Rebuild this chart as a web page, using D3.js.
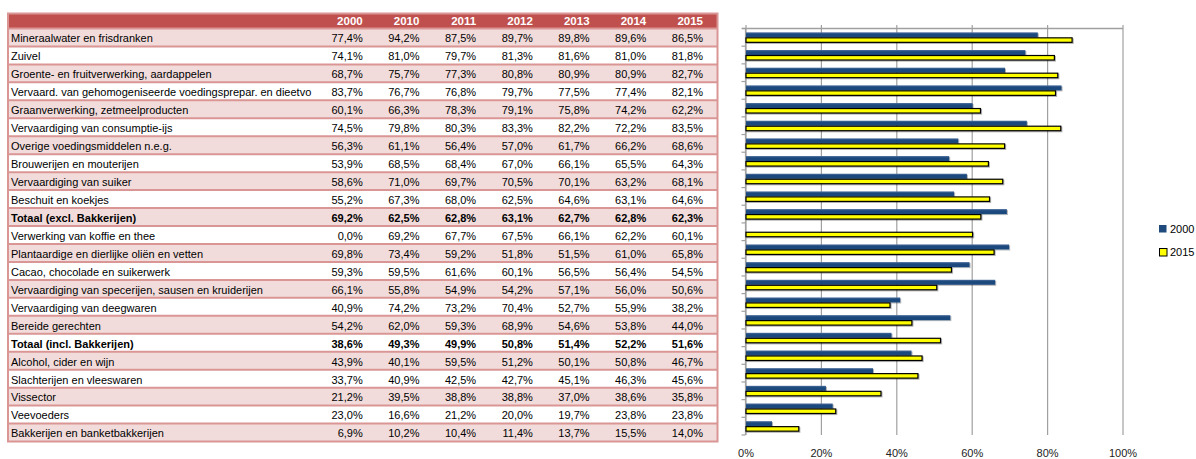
<!DOCTYPE html>
<html>
<head>
<meta charset="utf-8">
<script src="https://cdn.jsdelivr.net/npm/d3@7"></script>
<style>
  body { margin: 0; background: #fff; }
  svg { display: block; font-family: "Liberation Sans", Arial, sans-serif; }
</style>
</head>
<body>
<svg id="chart" width="1196" height="459"></svg>
<script>
const width = 1196;
const height = 459;

// Table / chart data
const categories = [
  "Mineraalwater en frisdranken",
  "Zuivel",
  "Groente- en fruitverwerking, aardappelen",
  "Vervaard. van gehomogeniseerde voedingsprepar. en dieetvo",
  "Graanverwerking, zetmeelproducten",
  "Vervaardiging van consumptie-ijs",
  "Overige voedingsmiddelen n.e.g.",
  "Brouwerijen en mouterijen",
  "Vervaardiging van suiker",
  "Beschuit en koekjes",
  "Totaal (excl. Bakkerijen)",
  "Verwerking van koffie en thee",
  "Plantaardige en dierlijke oliën en vetten",
  "Cacao, chocolade en suikerwerk",
  "Vervaardiging van specerijen, sausen en kruiderijen",
  "Vervaardiging van deegwaren",
  "Bereide gerechten",
  "Totaal (incl. Bakkerijen)",
  "Alcohol, cider en wijn",
  "Slachterijen en vleeswaren",
  "Vissector",
  "Veevoeders",
  "Bakkerijen en banketbakkerijen"
];
const boldRows = ["Totaal (excl. Bakkerijen)", "Totaal (incl. Bakkerijen)"];

const years = ["2000", "2010", "2011", "2012", "2013", "2014", "2015"];
const v2000 = [77.4, 74.1, 68.7, 83.7, 60.1, 74.5, 56.3, 53.9, 58.6, 55.2, 69.2, 0.0, 69.8, 59.3, 66.1, 40.9, 54.2, 38.6, 43.9, 33.7, 21.2, 23.0, 6.9];
const v2010 = [94.2, 81.0, 75.7, 76.7, 66.3, 79.8, 61.1, 68.5, 71.0, 67.3, 62.5, 69.2, 73.4, 59.5, 55.8, 74.2, 62.0, 49.3, 40.1, 40.9, 39.5, 16.6, 10.2];
const v2011 = [87.5, 79.7, 77.3, 76.8, 78.3, 80.3, 56.4, 68.4, 69.7, 68.0, 62.8, 67.7, 59.2, 61.6, 54.9, 73.2, 59.3, 49.9, 59.5, 42.5, 38.8, 21.2, 10.4];
const v2012 = [89.7, 81.3, 80.8, 79.7, 79.1, 83.3, 57.0, 67.0, 70.5, 62.5, 63.1, 67.5, 51.8, 60.1, 54.2, 70.4, 68.9, 50.8, 51.2, 42.7, 38.8, 20.0, 11.4];
const v2013 = [89.8, 81.6, 80.9, 77.5, 75.8, 82.2, 61.7, 66.1, 70.1, 64.6, 62.7, 66.1, 51.5, 56.5, 57.1, 52.7, 54.6, 51.4, 50.1, 45.1, 37.0, 19.7, 13.7];
const v2014 = [89.6, 81.0, 80.9, 77.4, 74.2, 72.2, 66.2, 65.5, 63.2, 63.1, 62.8, 62.2, 61.0, 56.4, 56.0, 55.9, 53.8, 52.2, 50.8, 46.3, 38.6, 23.8, 15.5];
const v2015 = [86.5, 81.8, 82.7, 82.1, 62.2, 83.5, 68.6, 64.3, 68.1, 64.6, 62.3, 60.1, 65.8, 54.5, 50.6, 38.2, 44.0, 51.6, 46.7, 45.6, 35.8, 23.8, 14.0];
const columns = [v2000, v2010, v2011, v2012, v2013, v2014, v2015];

const xTicks = [0, 0.2, 0.4, 0.6, 0.8, 1.0];
const chartSeries = ["2000", "2015"];

const fmt = v => v.toFixed(1).replace(".", ",") + "%";

const svg = d3.select("#chart");

// ---------- table ----------
const tableLeft = 8, tableRight = 717.5;
const headerTop = 13.5, headerBottom = 28.5, tableBottom = 441.5;
const borderColor = "#d99694";

const rowY = d3.scaleBand().domain(categories).range([headerBottom, tableBottom]);
const colX = d3.scaleBand().domain(years).range([308, 705]);

const table = svg.append("g");

table.append("rect")
    .attr("x", tableLeft).attr("y", headerTop)
    .attr("width", tableRight - tableLeft).attr("height", headerBottom - headerTop)
    .attr("fill", "#c0504d");

table.selectAll("rect.row")
  .data(categories)
  .join("rect")
    .attr("class", "row")
    .attr("x", tableLeft).attr("y", d => rowY(d))
    .attr("width", tableRight - tableLeft).attr("height", rowY.bandwidth())
    .attr("fill", (d, i) => i % 2 === 0 ? "#f2dcdb" : "#ffffff");

// row separators
table.selectAll("line.sep")
  .data(categories)
  .join("line")
    .attr("class", "sep")
    .attr("x1", tableLeft).attr("x2", tableRight)
    .attr("y1", d => rowY(d)).attr("y2", d => rowY(d))
    .attr("stroke", borderColor).attr("stroke-width", 2);

table.append("rect")
    .attr("x", tableLeft).attr("y", headerTop)
    .attr("width", tableRight - tableLeft).attr("height", tableBottom - headerTop)
    .attr("fill", "none").attr("stroke", borderColor).attr("stroke-width", 2);

// header
table.selectAll("text.head")
  .data(years)
  .join("text")
    .attr("class", "head")
    .attr("x", d => colX(d) + colX.bandwidth() - 2)
    .attr("y", (headerTop + headerBottom) / 2)
    .attr("dy", "0.36em")
    .attr("text-anchor", "end")
    .attr("fill", "#fff")
    .attr("font-weight", "bold")
    .attr("font-size", 11.5)
    .text(d => d);

// labels, clipped to the label column
svg.append("clipPath").attr("id", "labelClip")
  .append("rect").attr("x", tableLeft).attr("y", 0).attr("width", 306).attr("height", height);

table.append("g").attr("clip-path", "url(#labelClip)")
  .selectAll("text")
  .data(categories)
  .join("text")
    .attr("x", 11)
    .attr("y", d => rowY(d) + rowY.bandwidth() / 2 + 1)
    .attr("dy", "0.35em")
    .attr("font-size", 11)
    .attr("font-weight", d => boldRows.includes(d) ? "bold" : null)
    .text(d => d);

// values
years.forEach((yr, j) => {
  table.append("g")
    .selectAll("text")
    .data(columns[j])
    .join("text")
      .attr("x", colX(yr) + colX.bandwidth() - 2)
      .attr("y", (d, i) => rowY(categories[i]) + rowY.bandwidth() / 2 + 1)
      .attr("dy", "0.35em")
      .attr("text-anchor", "end")
      .attr("font-size", 11)
      .attr("font-weight", (d, i) => boldRows.includes(categories[i]) ? "bold" : null)
      .text(d => fmt(d));
});

// ---------- bar chart ----------
const x = d3.scaleLinear().domain([0, 1]).range([746, 1123]);
const y = d3.scaleBand().domain(categories).range([28.5, 435]);
const inner = d3.scaleBand().domain(chartSeries).range([y.bandwidth() / 2 - 5, y.bandwidth() / 2 + 5]);

const defs = svg.append("defs");
const grad = defs.append("linearGradient").attr("id", "blueGrad")
    .attr("x1", 0).attr("y1", 0).attr("x2", 0).attr("y2", 1);
grad.append("stop").attr("offset", "0%").attr("stop-color", "#4a6e9e");
grad.append("stop").attr("offset", "35%").attr("stop-color", "#1f4a7d");
grad.append("stop").attr("offset", "100%").attr("stop-color", "#1f4a7d");

const shadow = defs.append("filter").attr("id", "shadow")
    .attr("x", "-5%").attr("y", "-50%").attr("width", "110%").attr("height", "200%");
shadow.append("feDropShadow").attr("dx", 1).attr("dy", 1)
    .attr("stdDeviation", 0.6).attr("flood-color", "#000").attr("flood-opacity", 0.3);

const chart = svg.append("g");

// gridlines
chart.selectAll("line.grid")
  .data(xTicks)
  .join("line")
    .attr("class", "grid")
    .attr("x1", d => x(d)).attr("x2", d => x(d))
    .attr("y1", 25).attr("y2", 435)
    .attr("stroke", "#a0a0a0").attr("stroke-width", 1.2);

// top value-axis line
chart.append("line")
    .attr("x1", 742).attr("x2", x(1))
    .attr("y1", 28.5).attr("y2", 28.5)
    .attr("stroke", "#a0a0a0").attr("stroke-width", 1.5);

// category axis
chart.append("line")
    .attr("x1", 745.5).attr("x2", 745.5)
    .attr("y1", 28.5).attr("y2", 435)
    .attr("stroke", "#a0a0a0").attr("stroke-width", 1.2);

chart.selectAll("line.ctick")
  .data(categories.concat(["end"]))
  .join("line")
    .attr("class", "ctick")
    .attr("x1", 741.5).attr("x2", 745.5)
    .attr("y1", d => d === "end" ? 435 : y(d)).attr("y2", d => d === "end" ? 435 : y(d))
    .attr("stroke", "#a0a0a0").attr("stroke-width", 1.2);

// bars
const bars = chart.selectAll("g.cat")
  .data(categories)
  .join("g")
    .attr("class", "cat")
    .attr("transform", d => `translate(0,${y(d)})`);

bars.append("rect")
    .filter((d, i) => v2000[i] > 0)
    .attr("x", x(0))
    .attr("y", inner("2000"))
    .attr("width", d => x(v2000[categories.indexOf(d)] / 100) - x(0))
    .attr("height", inner.bandwidth())
    .attr("fill", "url(#blueGrad)")
    .attr("filter", "url(#shadow)");

bars.append("rect")
    .attr("x", x(0))
    .attr("y", inner("2015") + 0.5)
    .attr("width", (d, i) => x(v2015[i] / 100) - x(0))
    .attr("height", inner.bandwidth() - 0.5)
    .attr("fill", "#ffff00")
    .attr("stroke", "#000")
    .attr("stroke-width", 1.2)
    .attr("filter", "url(#shadow)");

// x tick labels
chart.selectAll("text.xlab")
  .data(xTicks)
  .join("text")
    .attr("class", "xlab")
    .attr("x", d => x(d))
    .attr("y", 453)
    .attr("dy", "0.35em")
    .attr("text-anchor", "middle")
    .attr("font-size", 11)
    .attr("fill", "#222")
    .text(d3.format(".0%"));

// legend
const legend = svg.append("g");
const legendY = d3.scalePoint().domain(chartSeries).range([229, 252.5]);

legend.selectAll("rect")
  .data(chartSeries)
  .join("rect")
    .attr("x", d => d === "2000" ? 1159 : 1159.5)
    .attr("y", d => legendY(d) - 4)
    .attr("width", 7.5).attr("height", 7.5)
    .attr("fill", d => d === "2000" ? "#1f4a7d" : "#ffff00")
    .attr("stroke", d => d === "2000" ? "none" : "#000")
    .attr("stroke-width", 1);

legend.selectAll("text")
  .data(chartSeries)
  .join("text")
    .attr("x", 1170)
    .attr("y", d => legendY(d))
    .attr("dy", "0.35em")
    .attr("font-size", 11)
    .text(d => d);
</script>
</body>
</html>
